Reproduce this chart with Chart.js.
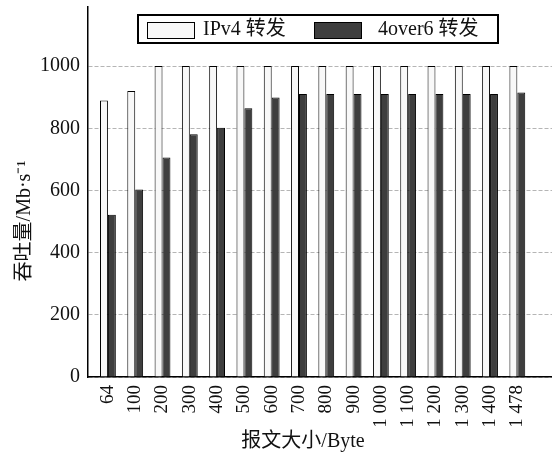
<!DOCTYPE html>
<html>
<head>
<meta charset="utf-8">
<script src="https://cdn.jsdelivr.net/npm/chart.js@4/dist/chart.umd.min.js"></script>
<style>
  html, body { margin: 0; padding: 0; background: #fff; }
</style>
</head>
<body>
<canvas id="chart" width="552" height="457"></canvas>
<script>
// 報文大小 (Byte)
const sizes = ['64', '100', '200', '300', '400', '500', '600', '700', '800', '900',
    '1 000', '1 100', '1 200', '1 300', '1 400', '1 478'];
const ipv4Values = [889, 920, 1000, 1000, 1000, 1000, 1000, 1000, 1000, 1000,
    1000, 1000, 1000, 1000, 1000, 1000];
const over6Values = [522, 603, 706, 781, 802, 864, 899, 910, 910, 910,
    910, 910, 910, 910, 910, 915];
const yTicks = [0, 200, 400, 600, 800, 1000];
const seriesNames = ['IPv4 转发', '4over6 转发'];

const FONT = '"Liberation Serif", "Noto Sans CJK SC", serif';
const WHITE = '#f8f8f8';
const DARK = '#3e3e3e';

// 外框圖例 + 兩個軸標題
const decorations = {
    id: 'decorations',
    afterDraw(chart) {
        const ctx = chart.ctx;
        ctx.save();
        ctx.fillStyle = '#fff';
        ctx.fillRect(138, 15, 360, 28);
        ctx.strokeStyle = '#000';
        ctx.lineWidth = 2;
        ctx.strokeRect(138, 15, 360, 28);

        const items = [[147, 203], [314, 378]];
        chart.data.datasets.forEach((ds, i) => {
            const [sx, tx] = items[i];
            ctx.fillStyle = ds.backgroundColor;
            ctx.fillRect(sx, 22, 47, 16);
            ctx.lineWidth = 1;
            ctx.strokeStyle = '#000';
            ctx.strokeRect(sx + 0.5, 22.5, 47, 16);
            ctx.fillStyle = '#111';
            ctx.font = '20px ' + FONT;
            ctx.textBaseline = 'middle';
            ctx.textAlign = 'left';
            ctx.fillText(ds.label, tx, 30);
        });

        ctx.fillStyle = '#111';
        ctx.font = '20px ' + FONT;
        ctx.textAlign = 'center';
        ctx.textBaseline = 'middle';
        ctx.fillText('报文大小/Byte', 303, 442);

        ctx.translate(25, 221);
        ctx.rotate(-Math.PI / 2);
        ctx.fillText('吞吐量/Mb·s⁻¹', 0, 0);
        ctx.restore();
    }
};

new Chart(document.getElementById('chart'), {
    type: 'bar',
    data: {
        datasets: [
            {
                label: seriesNames[0],
                data: ipv4Values.map((v, i) => ({ x: i, y: v })),
                backgroundColor: WHITE,
                borderColor: '#000',
                borderWidth: 1
            },
            {
                label: seriesNames[1],
                data: over6Values.map((v, i) => ({ x: i, y: v })),
                backgroundColor: DARK,
                borderColor: '#000',
                borderWidth: 1
            }
        ]
    },
    options: {
        responsive: false,
        animation: false,
        categoryPercentage: 0.58,
        barPercentage: 1,
        layout: { padding: { top: 7, left: 0, right: 0, bottom: 0 } },
        plugins: { legend: { display: false }, tooltip: { enabled: false } },
        scales: {
            x: {
                type: 'linear',
                offset: false,
                min: -0.73,
                max: 16.27,
                afterBuildTicks: s => { s.ticks = sizes.map((_, i) => ({ value: i })); },
                afterFit: s => { s.height = 80; s.paddingLeft = 0; s.paddingRight = 0; },
                grid: { display: false, drawTicks: false },
                border: { color: '#000', width: 1.5 },
                ticks: {
                    callback: v => sizes[v],
                    minRotation: 90,
                    maxRotation: 90,
                    padding: 8,
                    color: '#111',
                    font: { family: FONT, size: 19 }
                }
            },
            y: {
                min: 0,
                max: 1190,
                afterBuildTicks: s => { s.ticks = yTicks.map(v => ({ value: v })); },
                afterFit: s => { s.width = 88; s.paddingTop = 0; s.paddingBottom = 0; },
                grid: { color: '#b5b5b5', lineWidth: 1, drawTicks: false },
                border: { color: '#000', width: 1.5, dash: [4, 2] },
                ticks: {
                    callback: v => String(v),
                    padding: 8,
                    color: '#111',
                    font: { family: FONT, size: 20 }
                }
            }
        }
    },
    plugins: [decorations]
});
</script>
</body>
</html>
